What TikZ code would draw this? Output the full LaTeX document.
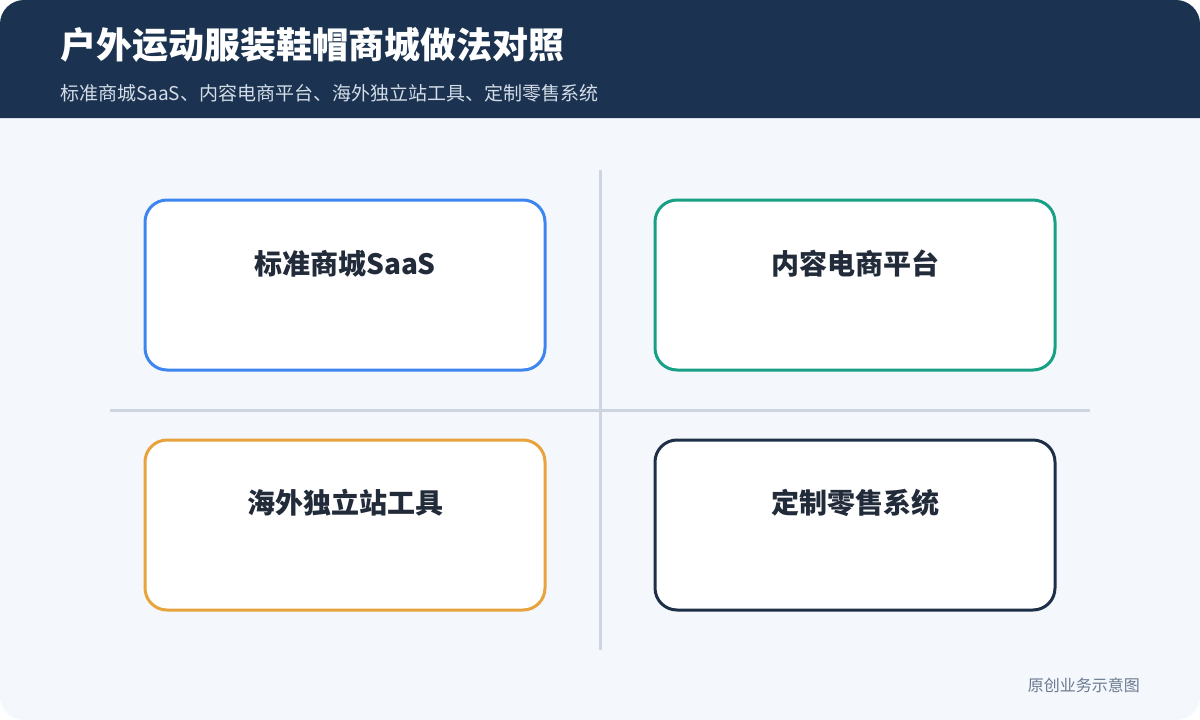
\documentclass[tikz,border=0pt]{standalone}
\usepackage{fontspec}
\setmainfont{Noto Sans CJK SC}
\usetikzlibrary{positioning}
\definecolor{headblue}{HTML}{1B3350}
\definecolor{pagebg}{HTML}{F4F7FC}
\definecolor{subgray}{HTML}{D3DCE8}
\definecolor{rulegray}{HTML}{CDD5E0}
\definecolor{cardblue}{HTML}{3D86F0}
\definecolor{cardteal}{HTML}{17A085}
\definecolor{cardorange}{HTML}{E8A33D}
\definecolor{cardnavy}{HTML}{1E3048}
\definecolor{labeldark}{HTML}{222B3A}
\definecolor{notegray}{HTML}{6B7A90}

\begin{document}
\begin{tikzpicture}[x=1pt,y=-1pt,
    card/.style={draw=#1, line width=3pt, fill=white, rounded corners=22pt,
        minimum width=400pt, minimum height=170pt, outer sep=0pt, anchor=north west},
    cardlabel/.style={text=labeldark, font=\fontsize{28}{32}\selectfont\bfseries}]
    \useasboundingbox (0,0) rectangle (1200,720);
    % Page and header band
    \fill[white] (0,0) rectangle (1200,720);
    \fill[pagebg, rounded corners=24pt] (0,0) rectangle (1200,720);
    \fill[headblue, rounded corners=24pt] (0,118) -- (0,0) -- (1200,0) -- (1200,118);
    \node[anchor=west, text=white, font=\fontsize{36}{40}\selectfont\bfseries, inner sep=0pt] (title) at (60,45) {户外运动服装鞋帽商城做法对照};
    \node[anchor=west, text=subgray, font=\fontsize{19}{23}\selectfont, inner sep=0pt] (subtitle) at (60,93) {标准商城SaaS、内容电商平台、海外独立站工具、定制零售系统};

    % Quadrant dividers
    \coordinate (vtop) at (600,170);
    \coordinate (vbot) at (600,650);
    \coordinate (hleft) at (110,410);
    \coordinate (hright) at (1090,410);
    \draw[rulegray, line width=3pt] (vtop) -- (vbot);
    \draw[rulegray, line width=3pt] (hleft) -- (hright);

    % Four cards
    \node[card=cardblue] (saas) at (145,200) {};
    \node[card=cardteal] (content) at (655,200) {};
    \node[card=cardorange] (overseas) at (145,440) {};
    \node[card=cardnavy] (custom) at (655,440) {};

    \node[cardlabel] (saasT) at ([yshift=-64pt]saas.north) {标准商城SaaS};
    \node[cardlabel] (contentT) at ([yshift=-64pt]content.north) {内容电商平台};
    \node[cardlabel] (overseasT) at ([yshift=-63pt]overseas.north) {海外独立站工具};
    \node[cardlabel] (customT) at ([yshift=-63pt]custom.north) {定制零售系统};

    % Footer note
    \node[anchor=east, text=notegray, font=\fontsize{16}{19}\selectfont, inner sep=0pt] (note) at (1140,685) {原创业务示意图};
\end{tikzpicture}
\end{document}
